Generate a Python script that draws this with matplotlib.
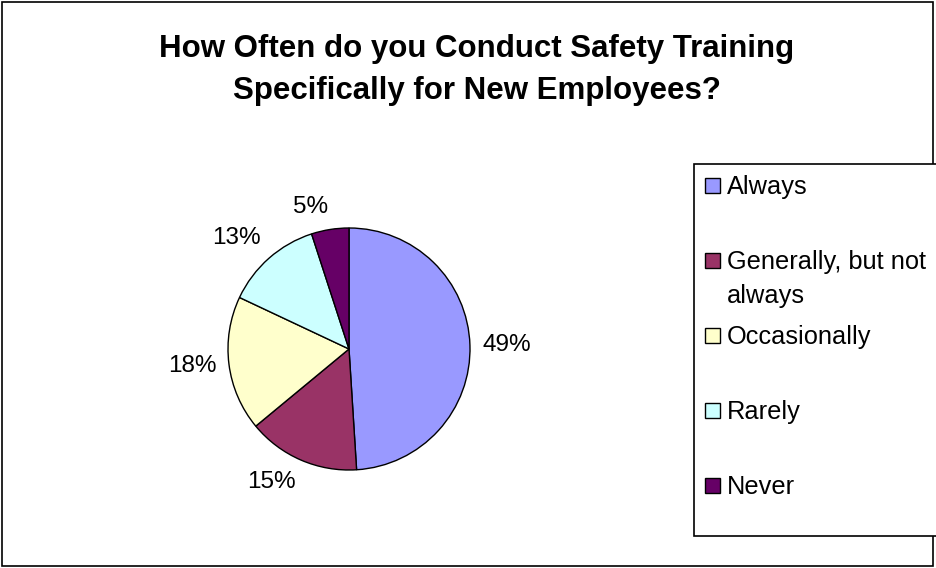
import numpy as np
import matplotlib
matplotlib.use("Agg")
import matplotlib.pyplot as plt
from matplotlib.patches import Rectangle, Wedge
from matplotlib.legend_handler import HandlerPatch

plt.rcParams["font.family"] = ["Liberation Sans", "DejaVu Sans"]

# survey answers (percent of respondents)
categories = ["Always", "Generally, but not\nalways", "Occasionally", "Rarely", "Never"]
percents = [49, 15, 18, 13, 5]
colors = ["#9999FF", "#993366", "#FFFFCC", "#CCFFFF", "#660066"]
title = "How Often do you Conduct Safety Training\nSpecifically for New Employees?"

W, H = 936, 568
fig = plt.figure(figsize=(W / 100, H / 100), dpi=100)

# pie placed in a square axes, centre ~(349, 349) px, radius ~121 px
r_px = 121
cx, cy = 349, H - 349
side = 3 * r_px
ax = fig.add_axes([(cx - side / 2) / W, (cy - side / 2) / H, side / W, side / H])
wedges, texts = ax.pie(
    percents,
    labels=[f"{p}%" for p in percents],
    colors=colors,
    startangle=90,
    counterclock=False,
    labeldistance=1.1,
    wedgeprops=dict(edgecolor="black", linewidth=1.0),
    textprops=dict(fontsize=17.5),
)
ax.set_xlim(-1.5, 1.5)
ax.set_ylim(-1.5, 1.5)
ax.set_aspect("equal")

# labels above/below the pie hang off the rim instead of being centred
for w, t in zip(wedges, texts):
    ang = np.deg2rad((w.theta1 + w.theta2) / 2)
    s = np.sin(ang)
    if abs(s) > 0.5:
        t.set_va("bottom" if s > 0 else "top")

fig.text(477 / W, 1 - 70 / H, title, ha="center", va="center",
         fontsize=22.5, fontweight="bold", linespacing=1.51)

# legend: every entry gets two lines so the slots are equal,
# the colour square sits next to the first line
leg_fs = 18.3
line_sp = 1.51
spacings = [line_sp] * (len(categories) - 1) + [line_sp * 0.75]
sp_of = {id(w): s for w, s in zip(wedges, spacings)}
sq = 10.8


def square(legend, orig_handle, xdescent, ydescent, width, height, fontsize):
    pitch = 0.827 * fontsize * sp_of[id(orig_handle)]
    yc = 0.5 * pitch + 0.463 * fontsize
    return Rectangle((-xdescent, yc - sq / 2), sq, sq)


leg_labels = [c if "\n" in c else c + "\n " for c in categories]
leg = fig.legend(
    wedges, leg_labels,
    loc="upper left", bbox_to_anchor=(694 / W, 1 - 164 / H),
    borderaxespad=0, fancybox=False, edgecolor="black", framealpha=1,
    fontsize=leg_fs, handlelength=0.59, handletextpad=0.28,
    borderpad=0.43, labelspacing=0.68,
    handler_map={Wedge: HandlerPatch(patch_func=square)},
)
leg.get_frame().set_linewidth(1.2)
for t, s in zip(leg.get_texts(), spacings):
    t.set_linespacing(s)

# outer chart border
fig.add_artist(Rectangle((0.002, 0.003), 0.995, 0.994, transform=fig.transFigure,
                         fill=False, edgecolor="black", linewidth=1.2))

fig.savefig("out.png", dpi=100)
